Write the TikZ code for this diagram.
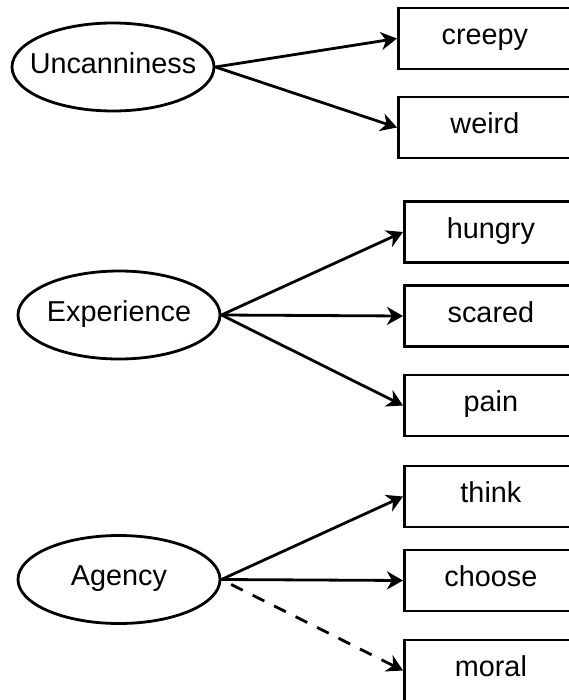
\documentclass[tikz,border=0pt]{standalone}
\usepackage{fontspec}
\setmainfont{Liberation Sans}
\usetikzlibrary{arrows.meta,shapes.geometric}
\begin{document}
\begin{tikzpicture}[x=1pt,y=-1pt,
  every node/.style={font=\fontsize{28.8}{34}\selectfont, text height=20.7pt, text depth=7.8pt, inner sep=0pt},
  latent/.style={draw, line width=2.8pt, ellipse, minimum width=202pt, minimum height=88pt},
  item/.style={draw, line width=2.8pt, rectangle, anchor=west, minimum width=173pt, minimum height=61pt},
  link/.style={line width=2.8pt, -{Stealth[length=16pt,width=18pt,inset=5pt]}},
  dlink/.style={link, dash pattern=on 13pt off 11pt, dash phase=13pt}]
\useasboundingbox (0,0) rectangle (569,700);
\clip (0,0) rectangle (569,700);
% latent variables
\node[latent] (unc) at (113,67) {};
\node at (unc.center) {Uncanniness};
\node[latent] (exp) at (119,315) {};
\node at (exp.center) {Experience};
\node[latent] (age) at (119,579.5) {};
\node at (age.center) {Agency};
% items
\node[item] (creepy) at (397,38.5) {creepy};
\node[item] (weird) at (397,127.5) {weird};
\node[item] (hungry) at (403,232) {hungry};
\node[item] (scared) at (403,316) {scared};
\node[item] (pain) at (403,405.5) {pain};
\node[item] (think) at (403,496.5) {think};
\node[item] (choose) at (403,580.5) {choose};
\node[item] (moral) at (403,670.5) {moral};
% connectors
\draw[link] (unc.east) -- (creepy.west);
\draw[link] (unc.east) -- (weird.west);
\draw[link] (exp.east) -- (hungry.west);
\draw[link] (exp.east) -- (scared.west);
\draw[link] (exp.east) -- (pain.west);
\draw[link] (age.east) -- (think.west);
\draw[link] (age.east) -- (choose.west);
\draw[dlink] (age.east) -- (moral.west);
\end{tikzpicture}
\end{document}
